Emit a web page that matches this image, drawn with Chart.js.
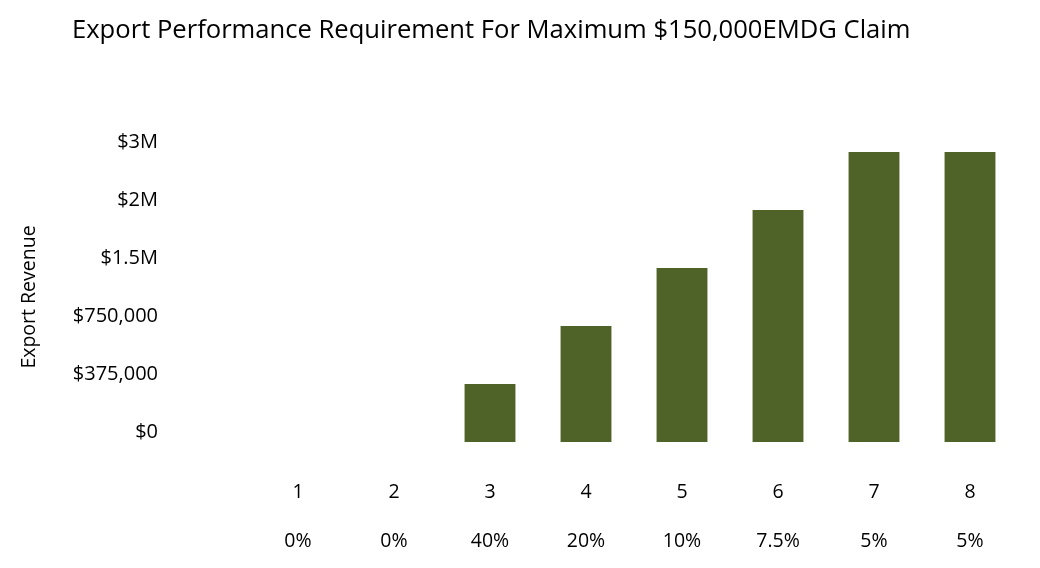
<!DOCTYPE html>
<html lang="en">
<head>
  <meta charset="UTF-8" />
  <title>Export Performance Requirement</title>
  <script src="https://cdn.jsdelivr.net/npm/chart.js"></script>
  <style>
    html, body { margin: 0; padding: 0; background: #fff; }
    #wrap { width: 1040px; height: 568px; }
  </style>
</head>
<body>
  <div id="wrap"><canvas id="grafica" width="1040" height="568"></canvas></div>

  <script>
    // data
    const years = ['1', '2', '3', '4', '5', '6', '7', '8'];
    const rates = ['0%', '0%', '40%', '20%', '10%', '7.5%', '5%', '5%'];
    const revenue = [0, 0, 375000, 750000, 1500000, 2000000, 3000000, 3000000];
    const yTickValues = [0, 375000, 750000, 1500000, 2000000, 3000000];
    const yTickLabels = ['$0', '$375,000', '$750,000', '$1.5M', '$2M', '$3M'];

    // the y axis is evenly spaced by label, not by dollars
    const levels = revenue.map(v => yTickValues.indexOf(v));

    const FONT = '"Open Sans", Lato, sans-serif';

    const titlePlugin = {
      id: 'leftTitle',
      afterDraw(chart) {
        const c = chart.ctx;
        c.save();
        c.font = '25.6px ' + FONT;
        c.fillStyle = '#000';
        c.textBaseline = 'middle';
        c.textAlign = 'left';
        c.fillText('Export Performance Requirement For Maximum $150,000EMDG Claim', 72, 31);
        c.restore();
      }
    };

    new Chart(document.getElementById('grafica'), {
      type: 'bar',
      data: {
        labels: years.map((y, i) => [y, rates[i]]),
        datasets: [{
          label: 'Export Revenue',
          data: levels,
          backgroundColor: '#4F6228',
          barPercentage: 0.53,
          categoryPercentage: 1
        }]
      },
      plugins: [titlePlugin],
      options: {
        responsive: false,
        animation: false,
        layout: { padding: { top: 152, left: 14, right: 22, bottom: 6 } },
        plugins: {
          legend: { display: false },
          tooltip: { enabled: false }
        },
        scales: {
          x: {
            grid: { display: false },
            border: { display: false },
            afterFit: s => { s.height = 120; },
            ticks: {
              color: '#000',
              padding: 18,
              maxRotation: 0,
              font: { family: FONT, size: 19.5, lineHeight: 2.5 }
            }
          },
          y: {
            min: 0,
            max: 5,
            grid: { display: false },
            border: { display: false },
            afterFit: s => { s.width = 236; },
            title: {
              display: true,
              text: 'Export Revenue',
              color: '#000',
              font: { family: FONT, size: 19.5 }
            },
            ticks: {
              stepSize: 1,
              color: '#000',
              padding: 84,
              labelOffset: -10,
              font: { family: FONT, size: 20 },
              callback: v => yTickLabels[v]
            }
          }
        }
      }
    });
  </script>
</body>
</html>
